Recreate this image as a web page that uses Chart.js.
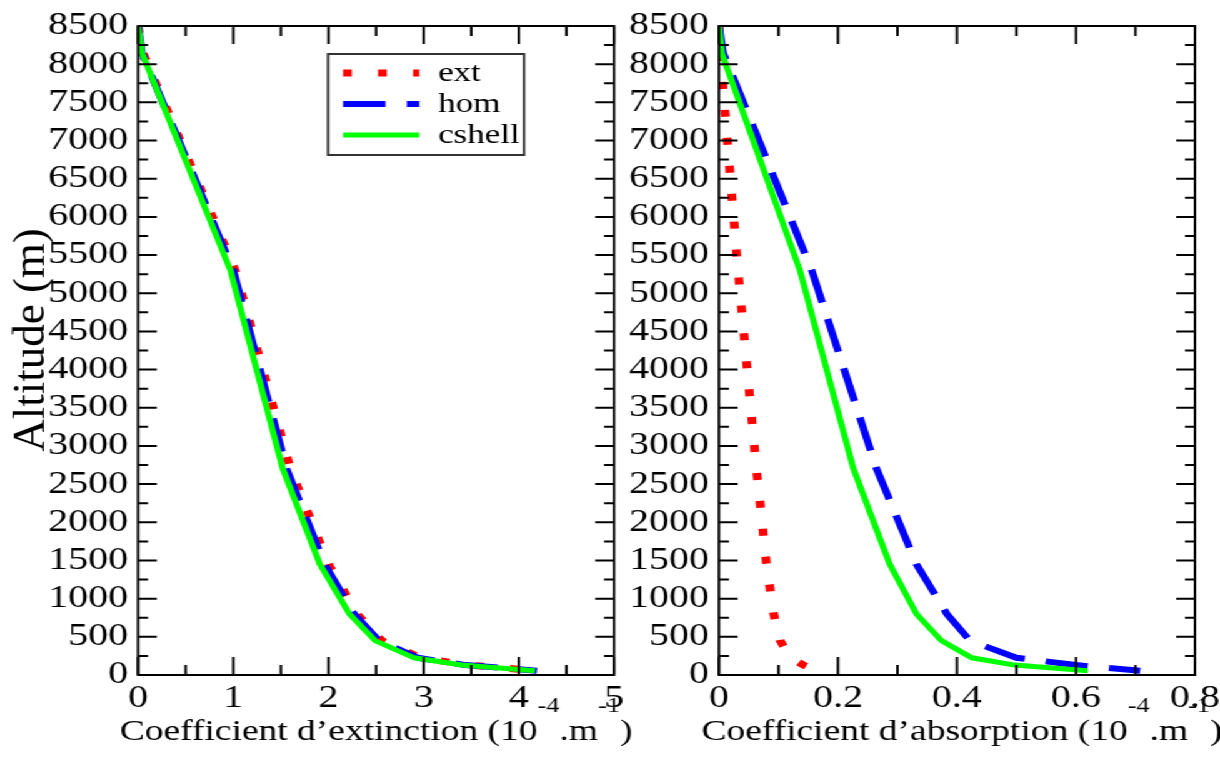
<!DOCTYPE html>
<html>
<head>
<meta charset="utf-8">
<script src="https://cdn.jsdelivr.net/npm/chart.js@4.4.1/dist/chart.umd.min.js"></script>
<style>
  html, body { margin: 0; padding: 0; background: #fff; overflow: hidden; }
  /* the reference is stretched sideways, so lay out narrow and widen */
  #stage { position: absolute; left: 0; top: 0; width: 976px; height: 763px; transform: scaleX(1.25); transform-origin: 0 0; }
  canvas { position: absolute; top: 0; }
  #left { left: 0; }
  #right { left: 488px; }
</style>
</head>
<body>
<div id="stage">
  <canvas id="left" width="512" height="763"></canvas>
  <canvas id="right" width="488" height="763"></canvas>
</div>
<script>
const seriesNames = ["ext", "hom", "cshell"];
const altitudes = [8500, 8150, 5300, 2700, 1450, 800, 450, 225, 130, 56];

// extinction, 10^-4 m^-1
const extExtinction = [0, 0.05, 1.02, 1.60, 2.00, 2.30, 2.56, 2.97, 3.47, 4.20];
const homExtinction = [0, 0.04, 1.00, 1.56, 1.96, 2.27, 2.53, 2.94, 3.44, 4.19];
const cshellExtinction = [0, 0.04, 0.97, 1.52, 1.91, 2.22, 2.49, 2.90, 3.40, 4.17];

// absorption, 10^-4 m^-1
const extAbsorption = [0, 0.002, 0.032, 0.063, 0.080, 0.092, 0.103, 0.120, 0.142, 0.164];
const homAbsorption = [0, 0.007, 0.156, 0.265, 0.332, 0.383, 0.422, 0.500, 0.600, 0.708];
const cshellAbsorption = [0, 0.0045, 0.136, 0.226, 0.287, 0.332, 0.374, 0.425, 0.497, 0.620];

const extinctionTicks = [0, 5, 1];
const absorptionTicks = [0, 0.8, 0.2];
const altitudeTicks = [0, 8500, 500];

const FAMILY = "'Liberation Serif', 'Times New Roman', serif";
Chart.defaults.font.family = FAMILY;
Chart.defaults.color = "#000";

const styles = {
  ext: { borderColor: "#ff0000", borderWidth: 7, borderDash: [7, 21], order: 2 },
  hom: { borderColor: "#0000ff", borderWidth: 6, borderDash: [34, 17], order: 1 },
  cshell: { borderColor: "#00ff00", borderWidth: 5, borderDash: [], order: 0 },
};

function makeDatasets(values) {
  return seriesNames.map((name, i) => ({
    label: name,
    data: values[i].map((v, k) => ({ x: v, y: altitudes[k] })),
    pointRadius: 0,
    tension: 0,
    borderCapStyle: "butt",
    ...styles[name],
  }));
}

const framePlugin = {
  id: "frame",
  afterDraw(chart, args, opts) {
    const { ctx, chartArea: a, scales } = chart;
    const xs = scales.x, ys = scales.y;
    ctx.save();
    ctx.strokeStyle = "#000";
    ctx.lineWidth = 2;
    ctx.strokeRect(a.left, a.top, a.right - a.left, a.bottom - a.top);

    ctx.beginPath();
    const xt = xs.ticks.map(t => t.value);
    xt.forEach((v, i) => {
      const p = xs.getPixelForValue(v);
      ctx.moveTo(p, a.bottom); ctx.lineTo(p, a.bottom - 18);
      ctx.moveTo(p, a.top); ctx.lineTo(p, a.top + 18);
      if (i < xt.length - 1) {
        const m = xs.getPixelForValue((v + xt[i + 1]) / 2);
        ctx.moveTo(m, a.bottom); ctx.lineTo(m, a.bottom - 10);
        ctx.moveTo(m, a.top); ctx.lineTo(m, a.top + 10);
      }
    });
    const yt = ys.ticks.map(t => t.value);
    yt.forEach((v, i) => {
      const p = ys.getPixelForValue(v);
      ctx.moveTo(a.left, p); ctx.lineTo(a.left + 15, p);
      ctx.moveTo(a.right, p); ctx.lineTo(a.right - 15, p);
      if (i < yt.length - 1) {
        const m = ys.getPixelForValue((v + yt[i + 1]) / 2);
        ctx.moveTo(a.left, m); ctx.lineTo(a.left + 8, m);
        ctx.moveTo(a.right, m); ctx.lineTo(a.right - 8, m);
      }
    });
    ctx.stroke();

    // x title with superscripts
    const parts = opts.title || [];
    let width = 0;
    parts.forEach(([t, sup]) => {
      ctx.font = (sup ? 21 : 30) + "px " + FAMILY;
      width += ctx.measureText(t).width;
    });
    let x = (a.left + a.right) / 2 - width / 2 + (opts.titleShift || 0);
    ctx.fillStyle = "#000";
    ctx.textBaseline = "alphabetic";
    ctx.textAlign = "left";
    parts.forEach(([t, sup]) => {
      ctx.font = (sup ? 21 : 30) + "px " + FAMILY;
      ctx.fillText(t, x, sup ? 712 : 740);
      x += ctx.measureText(t).width;
    });

    // y title, undoing the sideways stretch so glyphs keep their shape
    if (opts.yTitle) {
      ctx.save();
      ctx.translate(26, 340);
      ctx.scale(0.8, 1);
      ctx.rotate(-Math.PI / 2);
      ctx.font = "45px " + FAMILY;
      ctx.textAlign = "center";
      ctx.textBaseline = "middle";
      ctx.fillText(opts.yTitle, 0, 0);
      ctx.restore();
    }

    if (opts.legend) {
      const box = opts.legend;
      ctx.lineWidth = 2;
      ctx.strokeStyle = "#333";
      ctx.strokeRect(box.left, box.top, box.width, box.height);
      ctx.font = "28px " + FAMILY;
      ctx.textBaseline = "middle";
      ctx.textAlign = "left";
      chart.data.datasets.forEach((ds, i) => {
        const ry = box.top + 19 + i * 31;
        ctx.save();
        ctx.strokeStyle = ds.borderColor;
        ctx.lineWidth = ds.borderWidth;
        ctx.lineCap = "butt";
        ctx.setLineDash(ds.borderDash);
        ctx.beginPath();
        ctx.moveTo(box.left + 12, ry);
        ctx.lineTo(box.left + 73, ry);
        ctx.stroke();
        ctx.restore();
        ctx.fillText(ds.label, box.left + 88, ry + 1);
      });
    }
    ctx.restore();
  },
};

function makeChart(id, values, xTicks, yTitle, yWidth, padRight, title, titleShift, legend) {
  return new Chart(document.getElementById(id), {
    type: "line",
    data: { datasets: makeDatasets(values) },
    options: {
      responsive: false,
      animation: false,
      devicePixelRatio: 1,
      layout: { padding: { top: 26, right: padRight, left: 0, bottom: 0 } },
      plugins: {
        legend: { display: false },
        tooltip: { enabled: false },
        frame: { title, titleShift, legend, yTitle },
      },
      scales: {
        x: {
          type: "linear",
          min: xTicks[0], max: xTicks[1],
          ticks: { stepSize: xTicks[2], font: { size: 32 }, padding: 4, autoSkip: false, callback: v => String(v), maxRotation: 0 },
          grid: { display: false, drawTicks: false },
          border: { display: false },
          afterFit(s) { s.height = 88; s.paddingLeft = 0; s.paddingRight = 0; },
        },
        y: {
          type: "linear",
          min: altitudeTicks[0], max: altitudeTicks[1],
          ticks: { stepSize: altitudeTicks[2], font: { size: 32, lineHeight: 1 }, padding: 8, autoSkip: false, callback: v => String(v) },
          grid: { display: false, drawTicks: false },
          border: { display: false },
          afterFit(s) { s.width = yWidth; s.paddingTop = 0; s.paddingBottom = 0; },
        },
      },
    },
    plugins: [framePlugin],
  });
}

makeChart("left", [extExtinction, homExtinction, cshellExtinction], extinctionTicks,
  "Altitude (m)", 110.4, 20.8,
  [["Coefficient d\u2019extinction (10", false], ["-4", true], [".m", false], ["-1", true], [")", false]], 0,
  { left: 262.4, top: 54, width: 156.8, height: 101 });

makeChart("right", [extAbsorption, homAbsorption, cshellAbsorption], absorptionTicks,
  null, 87.2, 20,
  [["Coefficient d\u2019absorption (10", false], ["-4", true], [".m", false], ["-1", true], [")", false]], 4,
  null);
</script>
</body>
</html>
